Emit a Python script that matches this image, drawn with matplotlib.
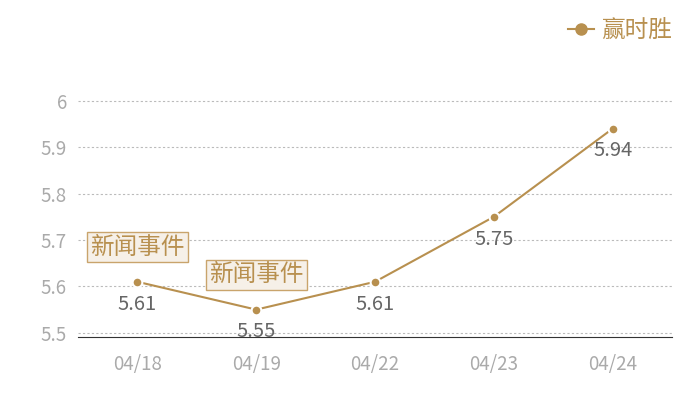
import numpy as np
import matplotlib.pyplot as plt

plt.rcParams['font.family'] = ['Noto Sans CJK SC', 'DejaVu Sans']

dates = ['04/18', '04/19', '04/22', '04/23', '04/24']
values = [5.61, 5.55, 5.61, 5.75, 5.94]
series_name = '赢时胜'
event_idx = [0, 1]
event_text = '新闻事件'
yticks = [5.5, 5.6, 5.7, 5.8, 5.9, 6.0]
ytick_labels = ['5.5', '5.6', '5.7', '5.8', '5.9', '6']

color = '#b8904f'

fig = plt.figure(figsize=(7, 4), dpi=100)
ax = fig.add_axes([78 / 700, 1 - 337 / 400, 594 / 700, (337 - 60) / 400])

x = np.arange(len(dates))
ax.plot(x, values, color=color, lw=1.5, marker='o', ms=7,
        mfc=color, mec='white', mew=1.5, zorder=3)

for xi, v in zip(x, values):
    ax.annotate(f'{v:.2f}', (xi, v), xytext=(0, -16), textcoords='offset points',
                ha='center', va='center', fontsize=14.5, color='#666666')

for i in event_idx:
    ax.annotate(event_text, (x[i], values[i]), xytext=(0, 25), textcoords='offset points',
                ha='center', va='center', fontsize=17, color='#b8904f',
                bbox=dict(boxstyle='square,pad=0.14', fc='#f6f0e8', ec='#c9a46c', lw=1))

ax.set_xlim(-0.5, 4.5)
ax.set_ylim(5.491, 5.491 + 277 / 464)
ax.set_xticks(x)
ax.set_xticklabels(dates, fontsize=13.5, color='#aaaaaa')
ax.set_yticks(yticks)
ax.set_yticklabels(ytick_labels, fontsize=13.5, color='#aaaaaa')
ax.tick_params(length=0, pad=12)
ax.tick_params(axis='y', pad=8)
ax.grid(axis='y', ls=(0, (2, 2)), color='#bbbbbb', lw=0.8)
for s in ['top', 'right', 'left']:
    ax.spines[s].set_visible(False)
ax.spines['bottom'].set_color('#333333')

fig.legend([plt.Line2D([], [], color=color, lw=1.5, marker='o', ms=8, mfc=color, mec=color)],
           [series_name], loc='upper right', bbox_to_anchor=(0.99, 1.005),
           frameon=False, fontsize=17, labelcolor=color, handlelength=1.1, handletextpad=0.3)

fig.savefig('out.png', dpi=100)
